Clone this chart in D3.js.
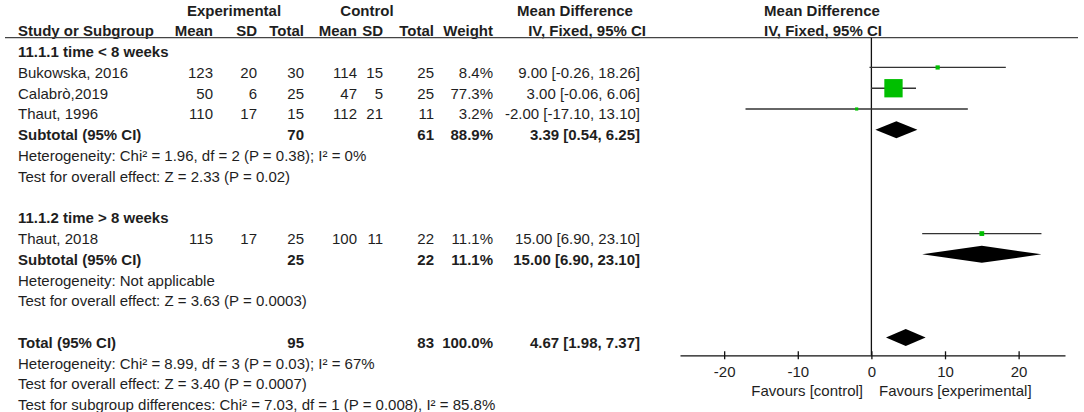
<!DOCTYPE html>
<html>
<head>
<meta charset="utf-8">
<script src="https://cdn.jsdelivr.net/npm/d3@7"></script>
<style>
  body { margin: 0; background: #fff; }
  svg text { font-family: "Liberation Sans", Arial, sans-serif; font-size: 15px; fill: #1e1e1e; }
  .bold { font-weight: bold; }
</style>
</head>
<body>
<script>
// Study data
const studies = ["Bukowska, 2016", "Calabrò,2019", "Thaut, 1996", "Thaut, 2018"];
const studyGroup = [0, 0, 0, 1];
const expMean = [123, 50, 110, 115];
const expSD = [20, 6, 17, 17];
const expN = [30, 25, 15, 25];
const ctrlMean = [114, 47, 112, 100];
const ctrlSD = [15, 5, 21, 11];
const ctrlN = [25, 25, 11, 22];
const weights = [8.4, 77.3, 3.2, 11.1];
const md = [9.0, 3.0, -2.0, 15.0];
const lo = [-0.26, -0.06, -17.1, 6.9];
const hi = [18.26, 6.06, 13.1, 23.1];

// Subgroups
const groups = ["11.1.1 time < 8 weeks", "11.1.2 time > 8 weeks"];
const subExpN = [70, 25];
const subCtrlN = [61, 22];
const subWeight = [88.9, 11.1];
const subMd = [3.39, 15.0];
const subLo = [0.54, 6.9];
const subHi = [6.25, 23.1];
const subHet = [
  "Heterogeneity: Chi² = 1.96, df = 2 (P = 0.38); I² = 0%",
  "Heterogeneity: Not applicable"
];
const subTest = [
  "Test for overall effect: Z = 2.33 (P = 0.02)",
  "Test for overall effect: Z = 3.63 (P = 0.0003)"
];

// Overall
const totalExpN = 95;
const totalCtrlN = 83;
const totalWeight = 100.0;
const totalMd = [4.67, 1.98, 7.37];
const totalNotes = [
  "Heterogeneity: Chi² = 8.99, df = 3 (P = 0.03); I² = 67%",
  "Test for overall effect: Z = 3.40 (P = 0.0007)",
  "Test for subgroup differences: Chi² = 7.03, df = 1 (P = 0.008), I² = 85.8%"
];

const tickValues = [-20, -10, 0, 10, 20];

const width = 1084;
const height = 412;

const svg = d3
  .select("body")
  .append("svg")
  .attr("width", width)
  .attr("height", height);

// build row list
const rows = [];
let r = 0;
groups.forEach((g, gi) => {
  rows.push({ type: "group", i: r++, text: g });
  studies.forEach((s, si) => {
    if (studyGroup[si] === gi) rows.push({ type: "study", i: r++, k: si });
  });
  rows.push({ type: "subtotal", i: r++, k: gi });
  rows.push({ type: "note", i: r++, text: subHet[gi] });
  rows.push({ type: "note", i: r++, text: subTest[gi] });
  r++;
});
rows.push({ type: "total", i: r++ });
totalNotes.forEach((t) => rows.push({ type: "note", i: r++, text: t }));

// scales
const yRow = d3.scaleLinear().domain([0, 17]).range([52, 405]);
const x = d3.scaleLinear().domain([-26, 26.3]).range([680, 1065]);
const boxSize = d3.scaleLinear().domain([0, 77.3]).range([2.5, 18.3]);
const markOffset = -5.3;
const base = 5.2; // baseline offset from row centre

// column right edges
const cols = { em: 213, esd: 257, en: 304, cm: 357, csd: 383, cn: 434, w: 493, ci: 640 };
// plain hyphen for negatives, like the original
const locale = d3.formatLocale({ decimal: ".", thousands: ",", grouping: [3], currency: ["", ""], minus: "-" });
const fmt2 = locale.format(".2f");
const ciText = (m, l, h) => `${fmt2(m)} [${fmt2(l)}, ${fmt2(h)}]`;

// Headers
const head1 = [
  { t: "Experimental", x: 234 },
  { t: "Control", x: 367 },
  { t: "Mean Difference", x: 575 },
  { t: "Mean Difference", x: 822 }
];
svg.selectAll(".h1").data(head1).enter().append("text")
  .attr("class", "bold")
  .attr("x", (d) => d.x).attr("y", 11 + base)
  .attr("text-anchor", "middle")
  .text((d) => d.t);

const head2 = [
  { t: "Study or Subgroup", x: 18, a: "start" },
  { t: "Mean", x: cols.em, a: "end" },
  { t: "SD", x: cols.esd, a: "end" },
  { t: "Total", x: cols.en, a: "end" },
  { t: "Mean", x: cols.cm, a: "end" },
  { t: "SD", x: cols.csd, a: "end" },
  { t: "Total", x: cols.cn, a: "end" },
  { t: "Weight", x: cols.w, a: "end" },
  { t: "IV, Fixed, 95% CI", x: 646, a: "end" },
  { t: "IV, Fixed, 95% CI", x: 823, a: "middle" }
];
svg.selectAll(".h2").data(head2).enter().append("text")
  .attr("class", "bold")
  .attr("x", (d) => d.x).attr("y", 31 + base)
  .attr("text-anchor", (d) => d.a)
  .text((d) => d.t);

// header underline
svg.append("line")
  .attr("x1", 5).attr("x2", 1078)
  .attr("y1", 37.7).attr("y2", 37.7)
  .attr("stroke", "#444").attr("stroke-width", 1.3);

// Axis
const axisY = 355.3;
const axis = svg.append("g")
  .attr("transform", `translate(0,${axisY})`)
  .call(d3.axisBottom(x).tickValues(tickValues).tickFormat(locale.format("d"))
    .tickSize(4).tickSizeOuter(0).tickPadding(7));
axis.select(".domain").attr("stroke", "#111").attr("stroke-width", 1.3);
axis.selectAll(".tick line").attr("y1", -4).attr("y2", 4).attr("stroke", "#111").attr("stroke-width", 1.3);
axis.selectAll(".tick text").attr("font-size", null).style("font-size", "15px").attr("fill", "#1e1e1e");

// zero line
svg.append("line")
  .attr("x1", x(0)).attr("x2", x(0))
  .attr("y1", 37.7).attr("y2", axisY)
  .attr("stroke", "#111").attr("stroke-width", 1.3);

svg.append("text").attr("x", 863).attr("y", 391 + base)
  .attr("text-anchor", "end").text("Favours [control]");
svg.append("text").attr("x", 879).attr("y", 391 + base)
  .attr("text-anchor", "start").text("Favours [experimental]");

// helper for right-aligned cells
function cell(yc, xr, t, bold) {
  svg.append("text")
    .attr("class", bold ? "bold" : null)
    .attr("x", xr).attr("y", yc + base)
    .attr("text-anchor", "end")
    .text(t);
}

function diamond(yc, m, l, h) {
  const my = yc + markOffset;
  svg.append("path")
    .attr("d", `M${x(l)},${my} L${x(m)},${my - 8.5} L${x(h)},${my} L${x(m)},${my + 8.5} Z`)
    .attr("fill", "#000");
}

rows.forEach((row) => {
  const yc = yRow(row.i);
  if (row.type === "group") {
    svg.append("text").attr("class", "bold").attr("x", 18).attr("y", yc + base).text(row.text);
  } else if (row.type === "note") {
    svg.append("text").attr("x", 18).attr("y", yc + base).text(row.text);
  } else if (row.type === "study") {
    const k = row.k;
    svg.append("text").attr("x", 18).attr("y", yc + base).text(studies[k]);
    cell(yc, cols.em, expMean[k]);
    cell(yc, cols.esd, expSD[k]);
    cell(yc, cols.en, expN[k]);
    cell(yc, cols.cm, ctrlMean[k]);
    cell(yc, cols.csd, ctrlSD[k]);
    cell(yc, cols.cn, ctrlN[k]);
    cell(yc, cols.w, weights[k].toFixed(1) + "%");
    cell(yc, cols.ci, ciText(md[k], lo[k], hi[k]));
    // CI line and weighted square
    const my = yc + markOffset;
    svg.append("line")
      .attr("x1", x(lo[k])).attr("x2", x(hi[k]))
      .attr("y1", my).attr("y2", my)
      .attr("stroke", "#333").attr("stroke-width", 1.3);
    const s = boxSize(weights[k]);
    svg.append("rect")
      .attr("x", x(md[k]) - s / 2).attr("y", my - s / 2)
      .attr("width", s).attr("height", s)
      .attr("fill", "#00bf00");
  } else if (row.type === "subtotal") {
    const k = row.k;
    svg.append("text").attr("class", "bold").attr("x", 18).attr("y", yc + base).text("Subtotal (95% CI)");
    cell(yc, cols.en, subExpN[k], true);
    cell(yc, cols.cn, subCtrlN[k], true);
    cell(yc, cols.w, subWeight[k].toFixed(1) + "%", true);
    cell(yc, cols.ci, ciText(subMd[k], subLo[k], subHi[k]), true);
    diamond(yc, subMd[k], subLo[k], subHi[k]);
  } else if (row.type === "total") {
    svg.append("text").attr("class", "bold").attr("x", 18).attr("y", yc + base).text("Total (95% CI)");
    cell(yc, cols.en, totalExpN, true);
    cell(yc, cols.cn, totalCtrlN, true);
    cell(yc, cols.w, totalWeight.toFixed(1) + "%", true);
    cell(yc, cols.ci, ciText(totalMd[0], totalMd[1], totalMd[2]), true);
    diamond(yc, totalMd[0], totalMd[1], totalMd[2]);
  }
});
</script>
</body>
</html>
